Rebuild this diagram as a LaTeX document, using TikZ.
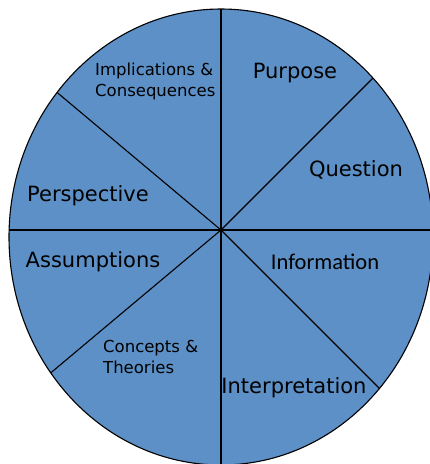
\documentclass[tikz,border=0pt]{standalone}
\usepackage{fontspec}
\setmainfont{DejaVu Sans}
\newfontfamily\calfont{Carlito}
\definecolor{wheelblue}{RGB}{92,144,198}
\begin{document}
\begin{tikzpicture}[x=1pt,y=-1pt,
    big/.style={inner sep=0pt,font=\fontsize{21}{25}\selectfont},
    small/.style={inner sep=0pt,align=left,font=\fontsize{16.5}{21}\selectfont}]
  \useasboundingbox (0,0) rectangle (430,464);
  \clip (0,0) rectangle (430,464);
  \fill[wheelblue] (221,237) ellipse [x radius=212, y radius=228];
  \coordinate (c) at (221,230);
  \begin{scope}
    \clip (221,237) ellipse [x radius=212, y radius=228];
    \foreach \a in {0,45,90,140,180,220,270,315}
      \draw[line width=1.1pt] (c) -- ++(\a:300);
  \end{scope}
  \draw[line width=1.1pt] (221,237) ellipse [x radius=212, y radius=228];
  \draw
    (295,73) node[big] (purpose) {Purpose}
    (356,170) node[big] (question) {Question}
    (325,262) node[big,font=\calfont\fontsize{22.5}{26}\selectfont] (information) {Information}
    (294,388) node[big] (interpretation) {Interpretation}
    (93,262) node[big] (assumptions) {Assumptions}
    (88,196) node[big] (perspective) {Perspective}
    (95,81) node[small,anchor=west] (implications) {Implications \&\\Consequences}
    (103,357) node[small,anchor=west] (concepts) {Concepts \&\\Theories};
\end{tikzpicture}
\end{document}
